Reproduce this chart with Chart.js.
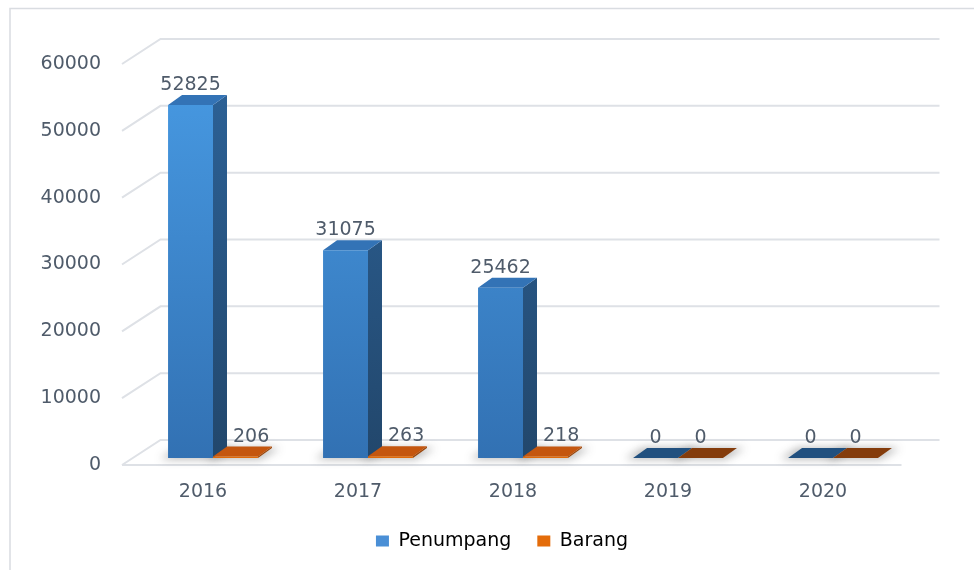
<!DOCTYPE html>
<html><head><meta charset="utf-8">
<script src="https://cdn.jsdelivr.net/npm/chart.js@4.4.0/dist/chart.umd.min.js"></script>
<style>html,body{margin:0;padding:0;background:#fff;}#wrap{width:974px;height:570px;}</style>
</head><body><div id="wrap"><canvas id="c" width="974" height="570"></canvas></div>
<script>
const categories = ['2016', '2017', '2018', '2019', '2020'];
const seriesNames = ['Penumpang', 'Barang'];
const penumpang = [52825, 31075, 25462, 0, 0];
const barang = [206, 263, 218, 0, 0];
const yMax = 60000;
const yStep = 10000;

const legendColors = ['#4A8FD6', '#E46C0A'];
const sideColors = [['#2D6399', '#22476C'], ['#B0500C', '#9A4509']];
const topColors = ['#3373B6', '#C4560F'];
const zeroTopColors = ['#21507F', '#843C0C'];
const textColor = '#4F5B6A';
const FONT = 'DejaVu Sans';
const FS = 19;

const D = {bx: 14, by: -10};               // bar depth
const W = {fx: -13.5, fy: 7, bx: 25, by: -18, bxr: 29}; // wall offsets
const PAD_BOTTOM = 9.5;
const ZERO_Y = 458;

function frontGrad(ctxObj, stops) {
  const ch = ctxObj.chart; const a = ch.chartArea;
  if (!a) return stops[0];
  const g = ch.ctx.createLinearGradient(0, a.top, 0, a.bottom);
  g.addColorStop(0, stops[0]); g.addColorStop(1, stops[1]);
  return g;
}

const threeD = {
  id: 'threeD',
  beforeDraw(chart) {
    const ctx = chart.ctx, a = chart.chartArea, ys = chart.scales.y;
    ctx.save();
    ctx.strokeStyle = '#D9DCE1'; ctx.lineWidth = 1.5;
    ctx.beginPath(); ctx.moveTo(10, 570); ctx.lineTo(10, 8.5); ctx.lineTo(974, 8.5); ctx.stroke();
    ctx.strokeStyle = '#DEE1E6'; ctx.lineWidth = 2;
    ys.ticks.forEach(t => {
      const y = ys.getPixelForValue(t.value);
      ctx.beginPath();
      ctx.moveTo(a.left + W.fx, y + W.fy);
      ctx.lineTo(a.left + W.bx, y + W.by);
      ctx.lineTo(a.right + W.bxr, y + W.by);
      ctx.stroke();
    });
    const y0 = ys.getPixelForValue(0);
    ctx.beginPath(); ctx.moveTo(a.left + W.fx, y0 + W.fy); ctx.lineTo(a.right - 9, y0 + W.fy); ctx.stroke();
    ctx.restore();
  },
  beforeDatasetsDraw(chart) {
    const ctx = chart.ctx;
    const metas = [chart.getDatasetMeta(0), chart.getDatasetMeta(1)];
    ctx.save();
    ctx.filter = 'blur(4px)';
    ctx.fillStyle = 'rgba(40,40,40,0.35)';
    metas.forEach(m => m.data.forEach(el => {
      const x1 = el.x - el.width / 2, x2 = el.x + el.width / 2, b = el.base;
      ctx.beginPath();
      ctx.moveTo(x1 - 8, b + 1); ctx.lineTo(x2 + 2, b + 1);
      ctx.lineTo(x2 + D.bx + 8, b + D.by); ctx.lineTo(x1 + D.bx - 4, b + D.by);
      ctx.closePath(); ctx.fill();
    }));
    ctx.restore();
    ctx.save();
    const a = chart.chartArea;
    for (let i = 0; i < categories.length; i++) {
      metas.forEach((m, di) => {
        const el = m.data[i];
        const val = chart.data.datasets[di].data[i];
        const x1 = el.x - el.width / 2, x2 = el.x + el.width / 2;
        const top = Math.min(el.y, el.base), bot = el.base;
        const g = ctx.createLinearGradient(0, a.top, 0, a.bottom);
        g.addColorStop(0, sideColors[di][0]); g.addColorStop(1, sideColors[di][1]);
        ctx.fillStyle = g;
        ctx.beginPath();
        ctx.moveTo(x2, top); ctx.lineTo(x2 + D.bx, top + D.by);
        ctx.lineTo(x2 + D.bx, bot + D.by); ctx.lineTo(x2, bot);
        ctx.closePath(); ctx.fill();
        ctx.fillStyle = val === 0 ? zeroTopColors[di] : topColors[di];
        ctx.beginPath();
        ctx.moveTo(x1, top); ctx.lineTo(x1 + D.bx, top + D.by);
        ctx.lineTo(x2 + D.bx, top + D.by); ctx.lineTo(x2, top);
        ctx.closePath(); ctx.fill();
      });
    }
    ctx.restore();
  },
  afterDatasetsDraw(chart) {
    const ctx = chart.ctx;
    ctx.save();
    ctx.font = FS + 'px "' + FONT + '"';
    ctx.fillStyle = textColor;
    ctx.textAlign = 'center'; ctx.textBaseline = 'middle';
    chart.data.datasets.forEach((ds, di) => {
      const m = chart.getDatasetMeta(di);
      m.data.forEach((el, i) => {
        const txt = String(ds.data[i]);
        const top = Math.min(el.y, el.base);
        let cx = el.x; const cy = top - 20;
        if (di > 0) {
          const prev = chart.getDatasetMeta(di - 1).data[i];
          const pTop = Math.min(prev.y, prev.base);
          if (pTop + D.by < cy + 10) {
            const w = ctx.measureText(txt).width;
            const minLeft = prev.x + prev.width / 2 + D.bx + 6;
            const left = cx - w / 2;
            if (left < minLeft) cx += minLeft - left;
          }
        }
        ctx.fillText(txt, cx, cy);
      });
    });
    ctx.restore();
  }
};

Chart.defaults.font.family = FONT;
Chart.defaults.font.size = FS;
Chart.defaults.color = textColor;

new Chart(document.getElementById('c'), {
  type: 'bar',
  data: {
    labels: categories,
    datasets: [
      {label: seriesNames[0], data: penumpang, backgroundColor: c => frontGrad(c, ['#489BE4', '#3271B3']), borderWidth: 0},
      {label: seriesNames[1], data: barang, backgroundColor: c => frontGrad(c, ['#E8730F', '#E06A0A']), borderWidth: 0}
    ]
  },
  options: {
    responsive: false,
    animation: false,
    devicePixelRatio: 1,
    layout: {padding: {left: 30, right: 0, top: 57, bottom: PAD_BOTTOM}},
    datasets: {bar: {categoryPercentage: 0.58, barPercentage: 1.0}},
    plugins: {
      tooltip: {enabled: false},
      legend: {
        position: 'bottom',
        labels: {
          boxWidth: 13, boxHeight: 11, padding: 26,
          font: {size: FS, family: FONT}, color: textColor,
          generateLabels: ch => ch.data.datasets.map((d, i) => ({
            text: d.label, fillStyle: legendColors[i], strokeStyle: legendColors[i], lineWidth: 0, hidden: false, datasetIndex: i
          }))
        }
      }
    },
    scales: {
      x: {
        grid: {display: false, drawTicks: false, tickLength: 0},
        border: {display: false},
        ticks: {padding: 22.6, labelOffset: -10, font: {size: FS}},
        afterFit: s => {
          const lh = (s.chart.legend && s.chart.legend.height) ? s.chart.legend.height : 55;
          s.height = 570 - ZERO_Y - PAD_BOTTOM - lh;
        }
      },
      y: {
        min: 0, max: yMax,
        grid: {display: false, drawTicks: false, tickLength: 0},
        border: {display: false},
        ticks: {stepSize: yStep, padding: 34.5, labelOffset: 7, font: {size: FS}, callback: v => String(v)},
        afterFit: s => { s.width = 105.5; }
      },
      yR: {
        position: 'right', display: true,
        grid: {display: false, drawTicks: false},
        border: {display: false},
        ticks: {display: false},
        afterFit: s => { s.width = 63.5; }
      }
    }
  },
  plugins: [threeD]
});
</script>
</body></html>
